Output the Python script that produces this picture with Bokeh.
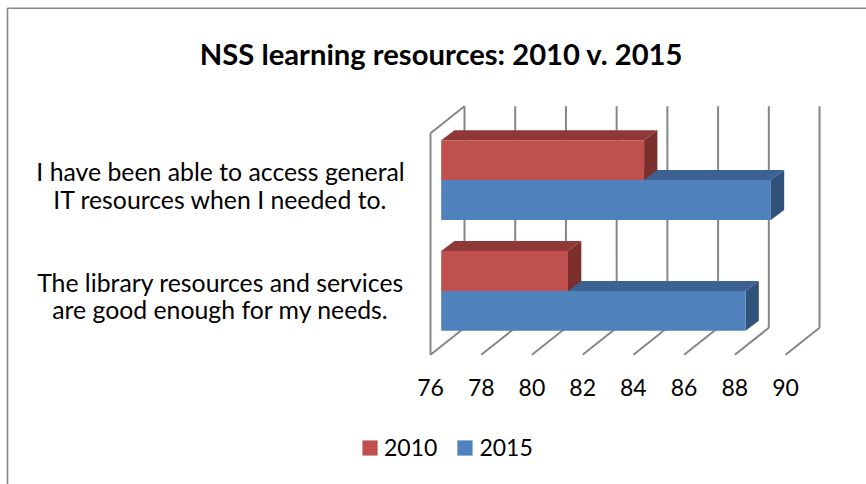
from bokeh.core.properties import value
from bokeh.embed import file_html
from bokeh.models import BoxAnnotation, FixedTicker, Label, Legend, LegendItem, Range1d
from bokeh.plotting import figure
from bokeh.resources import INLINE

# Survey data
title_text = "NSS learning resources: 2010 v. 2015"
categories = [
    "The library resources and services\nare good enough for my needs.",
    "I have been able to access general\nIT resources when I needed to.",
]
series_names = ["2010", "2015"]
values_2010 = [81, 84]
values_2015 = [88, 89]
x_ticks = [76, 78, 80, 82, 84, 86, 88, 90]

FONT = "Lato"
GRID = "#868686"
FRONT = {"2010": "#C0504D", "2015": "#4F81BD"}
TOP = {"2010": "#8E3937", "2015": "#3B6290"}
SIDE = {"2010": "#7B2F2D", "2015": "#30527A"}

# Scale of the chart box: pixels per axis unit, and where the box corner sits
W, H = 866, 484
PX_X = 25.36
PX_Y = 110.8
X0 = 76
FLOOR_PX = 354.3
AXIS_PX = 430

# Pseudo-3D offsets, in axis units
WALL_DX, WALL_DY = 34 / PX_X, 27 / PX_Y
BAR_DX, BAR_DY = 10.7 / PX_X, 8.5 / PX_Y
DEPTH_DX, DEPTH_DY = 13.3 / PX_X, 10 / PX_Y
BAR_H = 0.36

x_range = Range1d(X0 - AXIS_PX / PX_X, X0 + (W - AXIS_PX) / PX_X)
y_range = Range1d(-(H - FLOOR_PX) / PX_Y, FLOOR_PX / PX_Y)

p = figure(
    width=W, height=H, output_backend="svg", toolbar_location=None,
    x_range=x_range, y_range=y_range,
    min_border=0,
    outline_line_color=None, background_fill_color="white", border_fill_color="white",
)
p.grid.visible = False

# Value axis, pinned to the floor of the box
xa = p.xaxis[0]
xa.fixed_location = 0
xa.ticker = FixedTicker(ticks=x_ticks)
xa.axis_line_color = None
xa.major_tick_line_color = None
xa.minor_tick_line_color = None
xa.major_label_text_font = FONT
xa.major_label_text_font_size = "23px"
xa.major_label_text_color = "black"
xa.major_label_standoff = 18

# Category labels: centred two-line text beside each group of bars
p.yaxis.visible = False
p.text(
    x=[X0 - 210 / PX_X] * len(categories),
    y=[c + 0.53 for c in range(len(categories))],
    text=categories,
    text_align="center", text_baseline="middle", text_line_height=0.95,
    text_font=value(FONT), text_font_size="24.8px", text_color="black",
)

# Back wall, floor and side wall lines
gx0, gy0, gx1, gy1 = [], [], [], []
for t in x_ticks:
    gx0 += [t + WALL_DX, t]
    gy0 += [WALL_DY, 0]
    gx1 += [t + WALL_DX, t + WALL_DX]
    gy1 += [2 + WALL_DY, WALL_DY]
gx0 += [X0, X0]
gy0 += [0, 2]
gx1 += [X0, X0 + WALL_DX]
gy1 += [2, 2 + WALL_DY]
p.segment(gx0, gy0, gx1, gy1, line_color=GRID, line_width=2)

# Bars: each one is a front face, a top face and a side face
fronts = {}
for c in range(len(categories)):
    for name, vals, lo in (("2015", values_2015, c + 0.5 - BAR_H),
                           ("2010", values_2010, c + 0.5)):
        v = vals[c]
        x0, x1 = X0 + BAR_DX, v + BAR_DX
        y0, y1 = lo + BAR_DY, lo + BAR_H + BAR_DY
        p.patch([x0, x1, x1 + DEPTH_DX, x0 + DEPTH_DX],
                [y1, y1, y1 + DEPTH_DY, y1 + DEPTH_DY],
                fill_color=TOP[name], line_color=None)
        p.patch([x1, x1 + DEPTH_DX, x1 + DEPTH_DX, x1],
                [y0, y0 + DEPTH_DY, y1 + DEPTH_DY, y1],
                fill_color=SIDE[name], line_color=None)
        fronts[name] = p.quad(left=[x0], right=[x1], bottom=[y0], top=[y1],
                              fill_color=FRONT[name], line_color=None)

# Legend under the chart
legend = Legend(
    items=[LegendItem(label=n, renderers=[fronts[n]]) for n in series_names],
    orientation="horizontal", location=(360, H - 461),
    border_line_color=None, background_fill_alpha=0,
    glyph_width=19, glyph_height=19, label_standoff=5, spacing=18,
    padding=0, margin=0,
    label_text_font=FONT, label_text_font_size="23px", label_text_color="black",
)
p.add_layout(legend, "center")

# Title
p.add_layout(Label(
    x=441, y=H - 53, x_units="screen", y_units="screen",
    text=title_text, text_align="center", text_baseline="middle",
    text_font=FONT, text_font_size="29.2px", text_font_style="bold", text_color="black",
))

# Chart border, running off the right and bottom of the page
p.add_layout(BoxAnnotation(
    left=7, top=7.7, right=900, bottom=520,
    left_units="canvas", right_units="canvas", top_units="canvas", bottom_units="canvas",
    fill_alpha=0, line_color=GRID, line_alpha=1, line_width=1.6,
))

open("out.html", "w").write(file_html(p, INLINE))
